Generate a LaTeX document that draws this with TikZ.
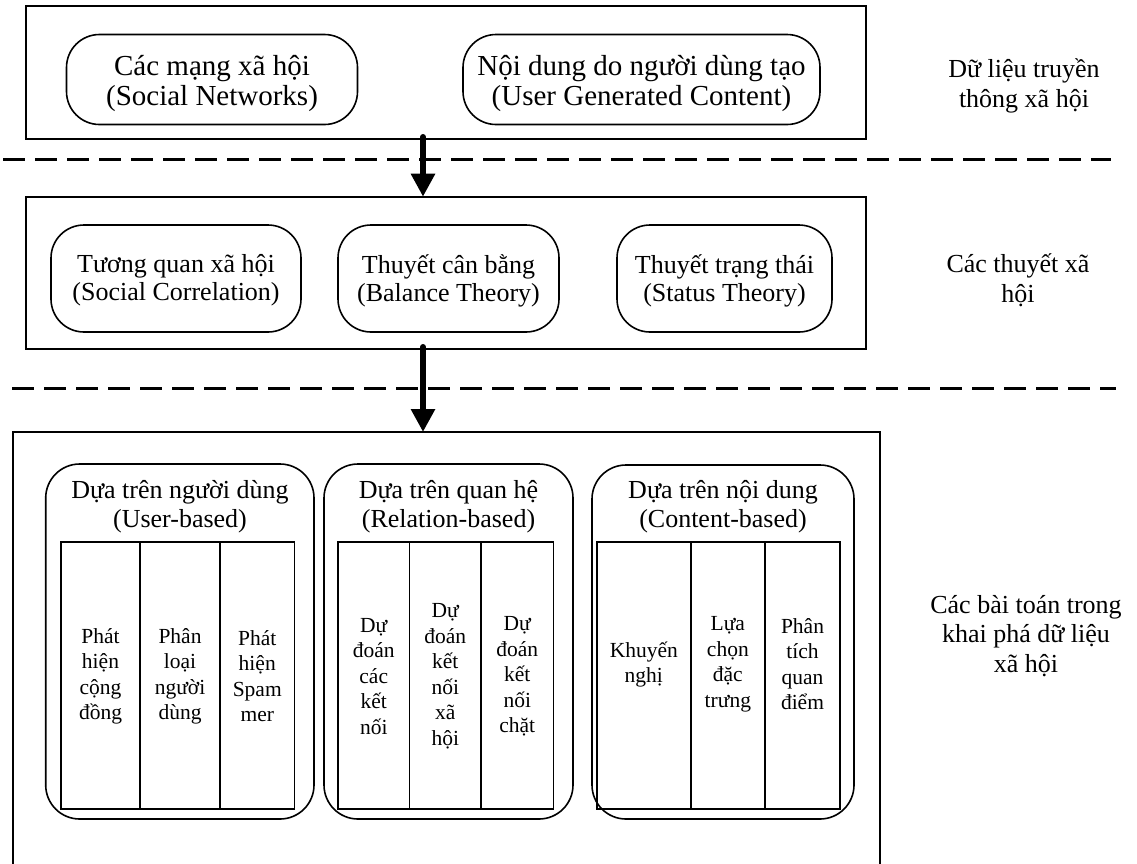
\documentclass[tikz,border=0pt]{standalone}
\usepackage{fontspec}
\setmainfont{Liberation Serif}
\usetikzlibrary{arrows.meta}

\tikzset{
  frame/.style={draw, line width=1.6pt, inner sep=0pt, outer sep=0pt},
  pill/.style={draw, line width=1.6pt, rounded corners=33pt, align=center,
    inner sep=0pt, outer sep=0pt},
  pilltext/.style={align=center, inner sep=0pt, font=\fontsize{29}{30}\selectfont},
  theorytext/.style={align=center, inner sep=0pt, font=\fontsize{26}{28}\selectfont},
  group/.style={draw, line width=1.6pt, rounded corners=34pt, inner sep=0pt, outer sep=0pt},
  cell/.style={draw, line width=1.6pt, inner sep=0pt, outer sep=0pt},
  head/.style={align=center, inner sep=0pt, font=\fontsize{26}{29}\selectfont},
  coltext/.style={align=center, inner sep=0pt, font=\fontsize{21.5}{25.5}\selectfont},
  sidelabel/.style={align=center, inner sep=0pt, font=\fontsize{26}{29.5}\selectfont},
  flow/.style={line width=6pt, line cap=round, -{Triangle[width=23pt,length=23pt]}},
  divider/.style={line width=3pt, dash pattern=on 22pt off 10pt}
}

\begin{document}
\begin{tikzpicture}[x=1pt,y=-1pt]
\useasboundingbox (0,0) rectangle (1137,863);

% Layer 1: social media data
\node[frame, minimum width=840pt, minimum height=133.3pt] (layer1) at (446,72.35) {};
\node[pill, minimum width=291pt, minimum height=90pt] (sn) at (212,79.5) {};
\node[pilltext] (sntext) at ([yshift=-4pt]sn.center) {Các mạng xã hội\\(Social Networks)};
\node[pill, minimum width=357pt, minimum height=90pt] (ugc) at (641.5,79.5) {};
\node[pilltext] (ugctext) at ([yshift=-4pt]ugc.center) {Nội dung do người dùng tạo\\(User Generated Content)};
\node[sidelabel] (lab1) at (1024,86) {Dữ liệu truyền\\thông xã hội};

% Layer 2: social theories
\node[frame, minimum width=840pt, minimum height=152.3pt] (layer2) at (446,272.85) {};
\node[pill, minimum width=250pt, minimum height=107pt] (sc) at (176,278.5) {};
\node[theorytext] (sctext) at ([yshift=-2pt]sc.center) {Tương quan xã hội\\(Social Correlation)};
\node[pill, minimum width=221pt, minimum height=107pt] (bt) at (448.5,278.5) {};
\node[theorytext] (bttext) at ([yshift=-2pt]bt.center) {Thuyết cân bằng\\(Balance Theory)};
\node[pill, minimum width=215pt, minimum height=107pt] (st) at (724.5,278.5) {};
\node[theorytext] (sttext) at ([yshift=-2pt]st.center) {Thuyết trạng thái\\(Status Theory)};
\node[sidelabel] (lab2) at (1018,280) {Các thuyết xã\\hội};

% Layer 3: mining tasks (frame runs past the lower page edge)
\node[frame, minimum width=867.3pt, minimum height=470pt] (layer3) at (446.35,667) {};
\node[sidelabel] (lab3) at (1026,636) {Các bài toán trong\\khai phá dữ liệu\\xã hội};

% Groups
\node[group, minimum width=268.3pt, minimum height=355pt] (gu) at (179.85,641.5) {};
\node[group, minimum width=249pt, minimum height=355pt] (gr) at (448.5,641.5) {};
\node[group, minimum width=262pt, minimum height=354pt] (gc) at (723,642) {};

\node[head] (hu) at (180,506.5) {Dựa trên người dùng\\(User-based)};
\node[head] (hr) at (448.5,506.5) {Dựa trên quan hệ\\(Relation-based)};
\node[head] (hc) at (723,506.5) {Dựa trên nội dung\\(Content-based)};

% Task columns
\node[cell, minimum width=79pt,   minimum height=267.3pt] (u1) at (100.5,675.35) {};
\node[cell, minimum width=80pt,   minimum height=267.3pt] (u2) at (180,675.35) {};
\node[cell, minimum width=74.5pt, minimum height=267.3pt] (u3) at (257.25,675.35) {};
\node[cell, minimum width=71.5pt, minimum height=267.3pt] (r1) at (373.75,675.35) {};
\node[cell, minimum width=71.5pt, minimum height=267.3pt] (r2) at (445.25,675.35) {};
\node[cell, minimum width=72.5pt, minimum height=267.3pt] (r3) at (517.25,675.35) {};
\node[cell, minimum width=93.7pt, minimum height=267.3pt] (c1) at (643.85,675.35) {};
\node[cell, minimum width=74.3pt, minimum height=267.3pt] (c2) at (727.85,675.35) {};
\node[cell, minimum width=75pt,   minimum height=267.3pt] (c3) at (802.5,675.35) {};

\node[coltext] (u1text) at ([yshift=-1pt]u1.center) {Phát\\hiện\\cộng\\đồng};
\node[coltext] (u2text) at ([yshift=-1pt]u2.center) {Phân\\loại\\người\\dùng};
\node[coltext] (u3text) at ([yshift=-1pt]u3.center) {Phát\\hiện\\Spam\\mer};
\node[coltext] (r1text) at ([yshift=-1pt]r1.center) {Dự\\đoán\\các\\kết\\nối};
\node[coltext] (r2text) at ([yshift=-1pt]r2.center) {Dự\\đoán\\kết\\nối\\xã\\hội};
\node[coltext] (r3text) at ([yshift=-1pt]r3.center) {Dự\\đoán\\kết\\nối\\chặt};
\node[coltext] (c1text) at ([yshift=11pt]c1.center) {Khuyến\\nghị};
\node[coltext] (c2text) at ([yshift=11pt]c2.center) {Lựa\\chọn\\đặc\\trưng};
\node[coltext] (c3text) at ([yshift=11pt]c3.center) {Phân\\tích\\quan\\điểm};

% Flow between layers
\coordinate (ax) at (423,0);
\draw[flow] ([yshift=2pt]layer1.south -| ax) -- (layer2.north -| ax);
\draw[flow] ([yshift=2pt]layer2.south -| ax) -- (layer3.north -| ax);

% Layer separators
\coordinate (d1a) at (3,159);   \coordinate (d1b) at (1111,159);
\coordinate (d2a) at (12,388);  \coordinate (d2b) at (1116,388);
\draw[divider] (d1a) -- (d1b);
\draw[divider] (d2a) -- (d2b);
\end{tikzpicture}
\end{document}
